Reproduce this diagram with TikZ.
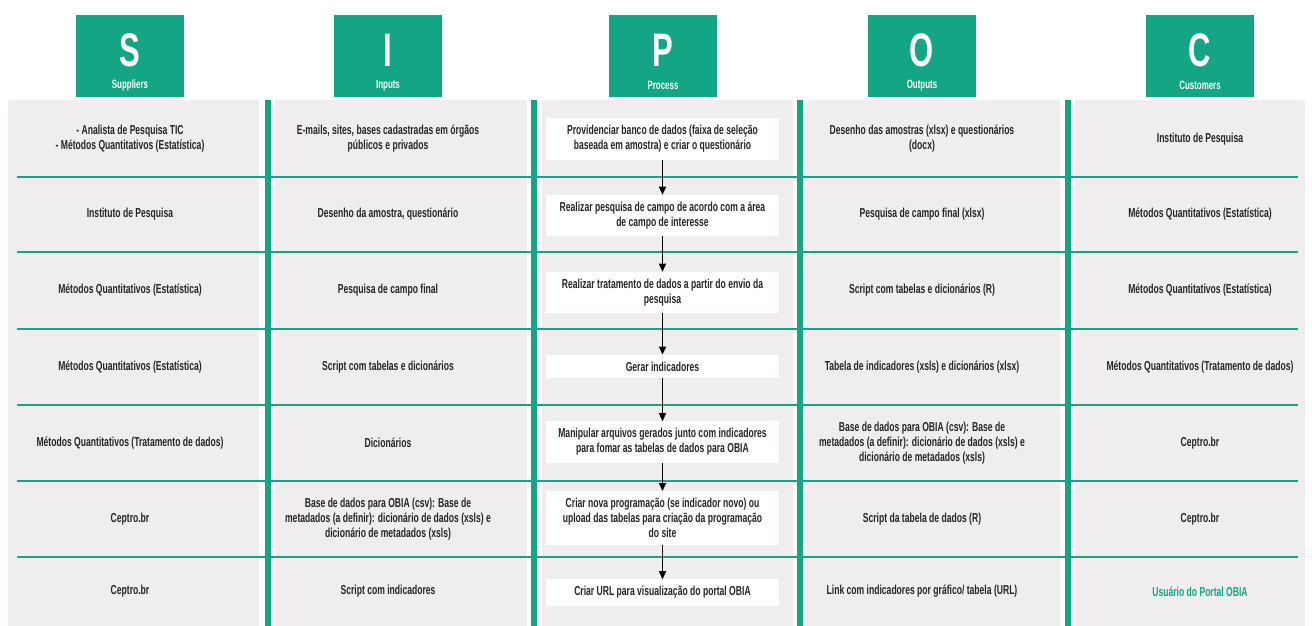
\documentclass[tikz,border=0pt]{standalone}
\usepackage{fontspec}
\setmainfont{Liberation Sans}[FakeStretch=0.66]
\usetikzlibrary{arrows.meta,positioning}

\definecolor{sipocgreen}{RGB}{20,166,132}
\definecolor{cellgray}{RGB}{239,237,237}
\definecolor{textgray}{RGB}{38,38,38}

\tikzset{
  headbox/.style={fill=sipocgreen, minimum width=108pt, minimum height=82pt, inner sep=0pt},
  headletter/.style={text=white, inner sep=0pt, font=\bfseries\fontsize{47}{47}\selectfont},
  headlabel/.style={text=white, inner sep=0pt, font=\bfseries\fontsize{12}{13}\selectfont},
  cell/.style={text=textgray, align=center, font=\bfseries\fontsize{13}{15}\selectfont},
  procbox/.style={cell, align=flush center, fill=white, text width=221pt, inner xsep=6pt, inner ysep=7pt},
  flow/.style={-{Triangle[length=8pt,width=7pt]}, line width=1.4pt, black},
  rowline/.style={draw=sipocgreen, line width=2.5pt},
  colbar/.style={fill=sipocgreen}
}

\begin{document}
\begin{tikzpicture}[x=1pt,y=-1pt]
\useasboundingbox (0,0) rectangle (1312,626);
\fill[white] (0,0) rectangle (1312,626);

% Column backgrounds
\fill[cellgray] (8,100) rectangle (259,626);
\fill[cellgray] (275,100) rectangle (527,626);
\fill[cellgray] (542,100) rectangle (793,626);
\fill[cellgray] (807,100) rectangle (1060,626);
\fill[cellgray] (1075,100) rectangle (1305,626);

% Row separators
\draw[rowline] (17,177) -- (1298,177);
\draw[rowline] (17,252) -- (1298,252);
\draw[rowline] (17,329) -- (1298,329);
\draw[rowline] (17,405) -- (1298,405);
\draw[rowline] (17,481) -- (1298,481);
\draw[rowline] (17,557) -- (1298,557);

% Column bars
\fill[colbar] (265,100) rectangle (271,626);
\fill[colbar] (531,100) rectangle (537,626);
\fill[colbar] (797,100) rectangle (803,626);
\fill[colbar] (1065,100) rectangle (1071,626);

% Headers
\node[headbox] (hs) at (130,56) {};
\node[headletter] (hsl) at (130,50) {S};
\node[headlabel] (hst) at (130,85.5) {Suppliers};

\node[headbox] (hi) at (388,56) {};
\node[headletter] (hil) at (388,50) {I};
\node[headlabel] (hit) at (388,85.5) {Inputs};

\node[headbox] (hp) at (663,56) {};
\node[headletter] (hpl) at (663,50) {P};
\node[headlabel] (hpt) at (663,85.5) {Process};

\node[headbox] (ho) at (922,56) {};
\node[headletter] (hol) at (922,50) {O};
\node[headlabel] (hot) at (922,85.5) {Outputs};

\node[headbox] (hc) at (1200,56) {};
\node[headletter] (hcl) at (1200,50) {C};
\node[headlabel] (hct) at (1200,85.5) {Customers};

% Suppliers
\node[cell] (s1) at (130,139) {- Analista de Pesquisa TIC\\- Métodos Quantitativos (Estatística)};
\node[cell] (s2) at (130,214.5) {Instituto de Pesquisa};
\node[cell] (s3) at (130,290.5) {Métodos Quantitativos (Estatística)};
\node[cell] (s4) at (130,367) {Métodos Quantitativos (Estatística)};
\node[cell] (s5) at (130,443) {Métodos Quantitativos (Tratamento de dados)};
\node[cell] (s6) at (130,519) {Ceptro.br};
\node[cell] (s7) at (130,591.5) {Ceptro.br};

% Inputs
\node[cell] (i1) at (388,139) {E-mails, sites, bases cadastradas em órgãos\\públicos e privados};
\node[cell] (i2) at (388,214.5) {Desenho da amostra, questionário};
\node[cell] (i3) at (388,290.5) {Pesquisa de campo final};
\node[cell] (i4) at (388,367) {Script com tabelas e dicionários};
\node[cell] (i5) at (388,443) {Dicionários};
\node[cell] (i6) at (388,519) {Base de dados para OBIA (csv): Base de\\metadados (a definir): dicionário de dados (xsls) e\\dicionário de metadados (xsls)};
\node[cell] (i7) at (388,591.5) {Script com indicadores};

% Process steps
\node[procbox] (p1) at (662.5,139) {Providenciar banco de dados (faixa de seleção\\baseada em amostra) e criar o questionário};
\node[procbox] (p2) at (662.5,215.5) {Realizar pesquisa de campo de acordo com a área\\de campo de interesse};
\node[procbox] (p3) at (662.5,292.5) {Realizar tratamento de dados a partir do envio da\\pesquisa};
\node[procbox] (p4) at (662.5,366.5) {Gerar indicadores};
\node[procbox] (p5) at (662.5,442) {Manipular arquivos gerados junto com indicadores\\para fomar as tabelas de dados para OBIA};
\node[procbox] (p6) at (662.5,518) {Criar nova programação (se indicador novo) ou\\upload das tabelas para criação da programação\\do site};
\node[procbox] (p7) at (662.5,592.5) {Criar URL para visualização do portal OBIA};

\draw[flow] (p1) -- (p2);
\draw[flow] (p2) -- (p3);
\draw[flow] (p3) -- (p4);
\draw[flow] (p4) -- (p5);
\draw[flow] (p5) -- (p6);
\draw[flow] (p6) -- (p7);

% Outputs
\node[cell] (o1) at (922,139) {Desenho das amostras (xlsx) e questionários\\(docx)};
\node[cell] (o2) at (922,214.5) {Pesquisa de campo final (xlsx)};
\node[cell] (o3) at (922,290.5) {Script com tabelas e dicionários (R)};
\node[cell] (o4) at (922,367) {Tabela de indicadores (xsls) e dicionários (xlsx)};
\node[cell] (o5) at (922,443) {Base de dados para OBIA (csv): Base de\\metadados (a definir): dicionário de dados (xsls) e\\dicionário de metadados (xsls)};
\node[cell] (o6) at (922,519) {Script da tabela de dados (R)};
\node[cell] (o7) at (922,591.5) {Link com indicadores por gráfico/ tabela (URL)};

% Customers
\node[cell] (c1) at (1200,139) {Instituto de Pesquisa};
\node[cell] (c2) at (1200,214.5) {Métodos Quantitativos (Estatística)};
\node[cell] (c3) at (1200,290.5) {Métodos Quantitativos (Estatística)};
\node[cell] (c4) at (1200,367) {Métodos Quantitativos (Tratamento de dados)};
\node[cell] (c5) at (1200,443) {Ceptro.br};
\node[cell] (c6) at (1200,519) {Ceptro.br};
\node[cell,text=sipocgreen] (c7) at (1200,591.5) {Usuário do Portal OBIA};
\end{tikzpicture}
\end{document}
